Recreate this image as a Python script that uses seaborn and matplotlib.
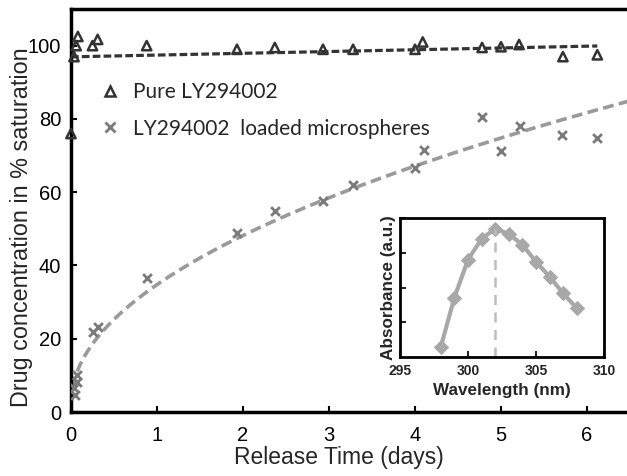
import numpy as np
import pandas as pd
import matplotlib
matplotlib.use("Agg")
import matplotlib.pyplot as plt
import seaborn as sns
from matplotlib.lines import Line2D

# ---- data ----
pure_days = [0.0, 0.035, 0.06, 0.08, 0.25, 0.31, 0.88, 1.93, 2.37, 2.93, 3.28,
             4.0, 4.09, 4.78, 5.0, 5.21, 5.72, 6.12]
pure_conc = [76.0, 97.0, 100.0, 102.5, 100.0, 101.7, 100.0, 99.0, 99.5, 99.0, 99.0,
             99.0, 101.0, 99.5, 99.7, 100.3, 97.0, 97.5]

micro_days = [0.05, 0.04, 0.07, 0.07, 0.26, 0.31, 0.88, 1.93, 2.37, 2.93, 3.28,
              4.0, 4.1, 4.78, 5.0, 5.22, 5.71, 6.12]
micro_conc = [4.7, 6.6, 8.3, 10.2, 21.8, 23.1, 36.6, 48.8, 54.8, 57.5, 62.0,
              66.7, 71.6, 80.4, 71.3, 78.0, 75.5, 74.7]

wavelength = [298, 299, 300, 301, 302, 303, 304, 305, 306, 307, 308]
absorbance = [0.29, 1.71, 2.8, 3.4, 3.69, 3.54, 3.23, 2.74, 2.31, 1.83, 1.4]
peak_wavelength = 302

x_ticks = [0, 1, 2, 3, 4, 5, 6]
y_ticks = [0, 20, 40, 60, 80, 100]
inset_x_ticks = [295, 300, 305, 310]

sns.set_theme(style="ticks")
plt.rcParams["font.family"] = ["Liberation Sans", "DejaVu Sans"]

fig = plt.figure(figsize=(6.27, 4.76), dpi=100)
W, H = 627, 476
ax = fig.add_axes([71 / W, (H - 412) / H, (630 - 71) / W, (412 - 9) / H])

dark = "#333333"
grey = "#7a7a7a"
curve_grey = "#9a9a9a"

pure_df = pd.DataFrame({"day": pure_days, "conc": pure_conc})
micro_df = pd.DataFrame({"day": micro_days, "conc": micro_conc})

# fits
sns.regplot(data=pure_df, x="day", y="conc", scatter=False, ci=None, ax=ax,
            line_kws=dict(color=dark, lw=2.3, ls=(0, (2.4, 1.0))))
b, a = np.polyfit(np.sqrt(micro_df["day"]), micro_df["conc"], 1)
fit_x = np.linspace(0, 6.5, 200)
fit_df = pd.DataFrame({"day": fit_x, "conc": a + b * np.sqrt(fit_x)})
sns.lineplot(data=fit_df, x="day", y="conc", ax=ax, color=curve_grey, lw=2.6,
             dashes=False, linestyle=(0, (3.0, 1.5)))

sns.scatterplot(data=pure_df, x="day", y="conc", ax=ax, marker="^", s=45,
                facecolor="none", edgecolor=dark, linewidth=1.8, clip_on=False,
                zorder=5)
sns.scatterplot(data=micro_df, x="day", y="conc", ax=ax, marker="x", s=40,
                color=grey, linewidth=2.0, zorder=5)

ax.set_xlim(0, 6.5)
ax.set_ylim(0, 110)
ax.set_xticks(x_ticks)
ax.set_yticks(y_ticks)
ax.tick_params(direction="in", length=4, width=1.5, labelsize=14.5, colors="black")
ax.tick_params(axis="x", pad=10)
ax.tick_params(axis="y", pad=7)
for s in ax.spines.values():
    s.set_linewidth(2.5)
    s.set_color("black")
ax.set_xlabel("Release Time (days)", fontsize=16.5)
ax.set_ylabel("Drug concentration in % saturation", fontsize=16.8)
ax.xaxis.set_label_coords((339 - 71) / 559, -(446 - 412) / 403)
ax.yaxis.set_label_coords(-(71 - 33) / 559, (412 - 227) / 403)

# legend
handles = [
    Line2D([], [], ls="none", marker="^", ms=6.5, mfc="none", mec=dark, mew=1.8),
    Line2D([], [], ls="none", marker="x", ms=6.5, color=grey, mew=2.0),
]
leg = ax.legend(handles, ["Pure LY294002", "LY294002  loaded microspheres"],
                loc="upper left", bbox_to_anchor=(100 / W, 1 - 82 / H),
                bbox_transform=fig.transFigure, frameon=False,
                prop=dict(family=["Lato", "DejaVu Sans"], size=15),
                handlelength=1.0, handletextpad=0.6, labelspacing=0.8,
                borderpad=0, borderaxespad=0)

# inset
ins = fig.add_axes([400 / W, (H - 357) / H, 204 / W, 139 / H])
ins_df = pd.DataFrame({"wl": wavelength, "abs": absorbance})
sns.lineplot(data=ins_df, x="wl", y="abs", ax=ins, color="#a8a8a8", lw=3,
             marker="D", markersize=7, markeredgecolor="#a8a8a8")
ins.vlines(peak_wavelength, 0, max(absorbance), colors="#bdbdbd", lw=1.8,
           linestyles=(0, (4, 3)))
ins.set_xlim(295, 310)
ins.set_ylim(0, 4)
ins.set_xticks(inset_x_ticks)
ins.set_yticks([1, 2, 3, 4])
ins.set_yticklabels([])
ins.tick_params(axis="x", direction="in", length=4, width=1.5, labelsize=10, pad=5)
ins.tick_params(axis="y", direction="in", length=4, width=1.5)
for t in ins.get_xticklabels():
    t.set_fontweight("bold")
for s in ins.spines.values():
    s.set_linewidth(2)
    s.set_color("black")
ins.set_xlabel("Wavelength (nm)", fontsize=12.3, fontweight="bold", labelpad=4)
ins.set_ylabel("Absorbance (a.u.)", fontsize=12.3, fontweight="bold")
ins.yaxis.set_label_coords(-4 / 204, 0.5)

fig.savefig("out.png", dpi=100)
